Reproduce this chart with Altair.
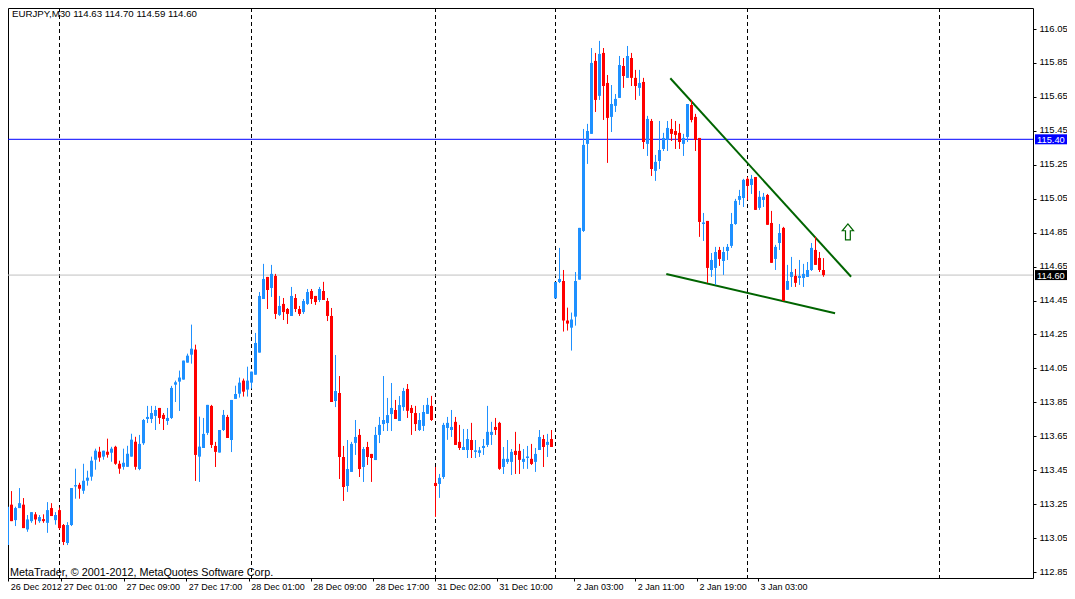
import altair as alt
import pandas as pd

symbol = "EURJPY,M30"

opens = [113.06, 113.01, 113.247, 113.156, 113.227, 113.247, 113.101, 113.15, 113.19, 113.15,
 113.162, 113.14, 113.227, 113.156, 113.215, 113.127, 113.021, 113.127, 113.355, 113.364,
 113.329, 113.388, 113.412, 113.512, 113.559, 113.53, 113.559, 113.553, 113.588, 113.488,
 113.47, 113.47, 113.53, 113.618, 113.457, 113.609, 113.752, 113.752, 113.77, 113.817,
 113.776, 113.74, 113.758, 113.954, 113.972, 113.984, 114.084, 114.131, 114.161, 113.53,
 113.581, 113.67, 113.829, 113.593, 113.554, 113.687, 113.764, 113.628, 113.87, 113.901,
 113.978, 113.925, 113.966, 114.013, 114.143, 114.459, 114.589, 114.524, 114.595, 114.365,
 114.43, 114.40, 114.359, 114.465, 114.40, 114.382, 114.43, 114.506, 114.477, 114.453,
 114.506, 114.447, 114.359, 113.858, 113.905, 113.528, 113.357, 113.44, 113.611, 113.658,
 113.469, 113.587, 113.546, 113.51, 113.658, 113.722, 113.728, 113.781, 113.805, 113.74,
 113.822, 113.929, 113.817, 113.787, 113.687, 113.711, 113.782, 113.829, 113.375, 113.369,
 113.41, 113.699, 113.687, 113.735, 113.617, 113.569, 113.569, 113.628, 113.558, 113.552,
 113.581, 113.599, 113.658, 113.705, 113.729, 113.469, 113.499, 113.499, 113.564, 113.564,
 113.499, 113.522, 113.517, 113.499, 113.569, 113.634, 113.599, 113.634, 114.463, 114.559,
 114.565, 114.332, 114.29, 114.355, 114.573, 114.86, 115.373, 115.432, 115.862, 115.656,
 115.909, 115.732, 115.532, 115.597, 115.644, 115.832, 115.762, 115.879, 115.762, 115.703,
 115.738, 115.373, 115.508, 115.214, 115.272, 115.343, 115.396, 115.461, 115.449, 115.438,
 115.373, 115.414, 115.602, 115.532, 115.408, 114.901, 114.919, 114.63, 114.642, 114.748,
 114.683, 114.742, 114.772, 114.901, 115.043, 115.054, 115.167, 115.131, 115.178, 114.996,
 115.043, 115.072, 114.907, 114.695, 114.789, 114.878, 114.513, 114.589, 114.595, 114.583,
 114.583, 114.589, 114.63, 114.748, 114.701, 114.63]

highs = [113.10, 113.376, 113.327, 113.235, 113.345, 113.286, 113.186, 113.203, 113.203, 113.186,
 113.19, 113.262, 113.256, 113.203, 113.23, 113.133, 113.144, 113.345, 113.459, 113.376,
 113.488, 113.447, 113.53, 113.577, 113.588, 113.565, 113.636, 113.588, 113.594, 113.506,
 113.577, 113.594, 113.665, 113.647, 113.658, 113.752, 113.829, 113.829, 113.829, 113.817,
 113.787, 113.817, 113.947, 113.978, 114.037, 114.096, 114.137, 114.308, 114.19, 113.766,
 113.758, 113.835, 113.835, 113.617, 113.687, 113.805, 113.776, 113.864, 113.948, 113.996,
 113.99, 114.06, 114.031, 114.259, 114.50, 114.666, 114.589, 114.66, 114.607, 114.477,
 114.465, 114.406, 114.53, 114.488, 114.418, 114.459, 114.518, 114.518, 114.477, 114.53,
 114.56, 114.465, 114.406, 114.129, 114.005, 113.593, 113.628, 113.617, 113.746, 113.693,
 113.587, 113.617, 113.546, 113.705, 113.764, 114.005, 113.876, 113.964, 113.864, 113.887,
 113.935, 113.958, 113.834, 113.829, 113.787, 113.834, 113.876, 113.888, 113.469, 113.428,
 113.729, 113.764, 113.805, 113.764, 113.717, 113.693, 113.693, 113.729, 113.628, 113.587,
 113.634, 113.829, 113.735, 113.758, 113.735, 113.587, 113.628, 113.575, 113.676, 113.605,
 113.575, 113.593, 113.605, 113.581, 113.687, 113.658, 113.664, 113.687, 114.559, 114.76,
 114.63, 114.408, 114.379, 114.618, 114.878, 115.461, 115.491, 115.938, 115.909, 115.98,
 115.938, 115.779, 115.72, 115.667, 115.891, 115.879, 115.95, 115.909, 115.809, 115.809,
 115.762, 115.538, 115.52, 115.308, 115.508, 115.438, 115.508, 115.52, 115.508, 115.491,
 115.432, 115.608, 115.632, 115.55, 115.408, 114.966, 114.919, 114.73, 114.766, 114.766,
 114.766, 114.783, 114.966, 115.049, 115.102, 115.167, 115.178, 115.19, 115.178, 115.096,
 115.084, 115.078, 114.978, 114.778, 114.901, 114.884, 114.66, 114.707, 114.636, 114.689,
 114.666, 114.677, 114.789, 114.825, 114.736, 114.70]

lows = [112.96, 113.01, 113.15, 113.121, 113.227, 113.109, 113.087, 113.14, 113.129, 113.14,
 113.14, 113.081, 113.18, 113.129, 113.10, 113.009, 113.009, 113.121, 113.282, 113.282,
 113.311, 113.359, 113.388, 113.453, 113.50, 113.512, 113.524, 113.50, 113.482, 113.429,
 113.453, 113.47, 113.53, 113.453, 113.45, 113.599, 113.728, 113.728, 113.687, 113.723,
 113.687, 113.717, 113.752, 113.852, 113.799, 113.984, 114.084, 114.078, 113.387, 113.381,
 113.581, 113.658, 113.581, 113.469, 113.554, 113.681, 113.64, 113.557, 113.87, 113.878,
 113.884, 113.884, 113.931, 114.013, 114.143, 114.459, 114.40, 114.471, 114.341, 114.359,
 114.335, 114.312, 114.359, 114.382, 114.359, 114.371, 114.424, 114.43, 114.424, 114.441,
 114.453, 114.329, 113.852, 113.822, 113.398, 113.269, 113.322, 113.44, 113.54, 113.41,
 113.381, 113.481, 113.381, 113.51, 113.61, 113.681, 113.681, 113.681, 113.752, 113.74,
 113.80, 113.758, 113.658, 113.681, 113.681, 113.681, 113.782, 113.74, 113.175, 113.287,
 113.399, 113.629, 113.646, 113.599, 113.569, 113.569, 113.522, 113.522, 113.522, 113.528,
 113.54, 113.587, 113.599, 113.658, 113.452, 113.428, 113.487, 113.422, 113.428, 113.428,
 113.458, 113.458, 113.481, 113.44, 113.569, 113.469, 113.528, 113.587, 114.463, 114.553,
 114.267, 114.273, 114.155, 114.302, 114.573, 114.854, 115.255, 115.432, 115.561, 115.632,
 115.514, 115.261, 115.443, 115.561, 115.644, 115.703, 115.762, 115.714, 115.632, 115.656,
 115.343, 115.302, 115.184, 115.155, 115.225, 115.331, 115.331, 115.39, 115.343, 115.343,
 115.302, 115.384, 115.50, 115.331, 114.825, 114.801, 114.554, 114.589, 114.542, 114.654,
 114.601, 114.689, 114.76, 114.896, 115.013, 115.001, 115.043, 115.078, 114.984, 114.984,
 115.001, 114.896, 114.672, 114.63, 114.748, 114.448, 114.513, 114.53, 114.53, 114.542,
 114.53, 114.589, 114.624, 114.66, 114.618, 114.59]

closes = [113.02, 113.235, 113.15, 113.227, 113.256, 113.109, 113.16, 113.203, 113.16, 113.174,
 113.15, 113.215, 113.18, 113.186, 113.109, 113.027, 113.127, 113.345, 113.359, 113.341,
 113.388, 113.406, 113.506, 113.565, 113.524, 113.565, 113.541, 113.577, 113.488, 113.459,
 113.494, 113.547, 113.63, 113.47, 113.605, 113.746, 113.764, 113.787, 113.805, 113.758,
 113.752, 113.758, 113.935, 113.965, 113.996, 114.096, 114.125, 114.166, 113.54, 113.589,
 113.664, 113.835, 113.599, 113.558, 113.687, 113.776, 113.64, 113.864, 113.899, 113.966,
 113.913, 113.978, 114.031, 114.20, 114.477, 114.577, 114.512, 114.607, 114.371, 114.418,
 114.382, 114.371, 114.477, 114.40, 114.371, 114.447, 114.50, 114.459, 114.441, 114.518,
 114.453, 114.359, 113.852, 113.917, 113.528, 113.351, 113.457, 113.605, 113.646, 113.457,
 113.575, 113.528, 113.522, 113.658, 113.717, 113.746, 113.775, 113.817, 113.752, 113.834,
 113.917, 113.80, 113.787, 113.722, 113.746, 113.793, 113.835, 113.746, 113.357, 113.405,
 113.717, 113.729, 113.705, 113.599, 113.581, 113.587, 113.634, 113.569, 113.564, 113.564,
 113.593, 113.676, 113.676, 113.687, 113.458, 113.517, 113.517, 113.558, 113.54, 113.511,
 113.517, 113.528, 113.487, 113.546, 113.646, 113.587, 113.617, 113.587, 114.559, 114.577,
 114.332, 114.314, 114.338, 114.565, 114.878, 115.367, 115.449, 115.85, 115.632, 115.903,
 115.714, 115.526, 115.608, 115.638, 115.838, 115.773, 115.891, 115.762, 115.714, 115.732,
 115.384, 115.52, 115.225, 115.267, 115.337, 115.408, 115.467, 115.432, 115.426, 115.384,
 115.408, 115.608, 115.514, 115.396, 114.913, 114.907, 114.642, 114.689, 114.736, 114.695,
 114.736, 114.766, 114.901, 115.037, 115.066, 115.161, 115.125, 115.167, 114.984, 115.061,
 115.061, 114.896, 114.672, 114.766, 114.848, 114.448, 114.565, 114.618, 114.554, 114.595,
 114.607, 114.63, 114.76, 114.66, 114.63, 114.60]

# time axis labels (positions in bar units) and day separators
xtick_pos = [1.2, 14.45, 30.1, 45.7, 61.3, 76.8, 92.4, 107.8, 123.3, 142.6, 157.95, 173.4, 188.6]
xtick_labels = ["26 Dec 2012", "27 Dec 01:00", "27 Dec 09:00", "27 Dec 17:00", "28 Dec 01:00",
                "28 Dec 09:00", "28 Dec 17:00", "31 Dec 02:00", "31 Dec 10:00", "2 Jan 03:00",
                "2 Jan 11:00", "2 Jan 19:00", "3 Jan 03:00"]
day_separators = [14, 62, 108, 138, 186, 234]

price_ticks = [116.05, 115.85, 115.65, 115.45, 115.25, 115.05, 114.85, 114.65, 114.45,
               114.25, 114.05, 113.85, 113.65, 113.45, 113.25, 113.05, 112.85]

level_prices = [115.40, 114.60]
level_line_colors = ["#0000FF", "#C0C0C0"]
level_box_colors = ["#0000FF", "#000000"]

trend_names = ["upper", "upper", "lower", "lower"]
trend_bars = [166.7, 211.9, 165.7, 207.9]
trend_prices = [115.76, 114.59, 114.606, 114.375]

arrow_bar = [211.1]
arrow_price = [114.854]

copyright_text = "MetaTrader, \u00a9 2001-2012, MetaQuotes Software Corp."

# ---------------------------------------------------------------
FONT = "Liberation Sans"
W, H = 1025, 570
x_dom = [1.125, 1.125 + W / 4.0]
y_top = 116.05 + 21 / 169.7
y_dom = [y_top - H / 169.7, y_top]

xs = alt.Scale(domain=x_dom, nice=False, zero=False)
ys = alt.Scale(domain=y_dom, nice=False, zero=False)

candles = pd.DataFrame({
    "bar": list(range(len(opens))),
    "open": opens, "high": highs, "low": lows, "close": closes,
})
candles["dir"] = ["up" if c >= o else "down" for o, c in zip(opens, closes)]
col = alt.Color("dir:N", scale=alt.Scale(domain=["up", "down"], range=["#1E90FF", "#FF0000"]), legend=None)

label_expr = "'" + xtick_labels[-1] + "'"
for i in reversed(range(len(xtick_pos) - 1)):
    mid = (xtick_pos[i] + xtick_pos[i + 1]) / 2
    label_expr = f"datum.value < {mid} ? '{xtick_labels[i]}' : ({label_expr})"

x_axis = alt.Axis(values=xtick_pos, labelExpr=label_expr, labelAlign="left", labelBaseline="top",
                  labelOffset=2, labelPadding=1, tickSize=3, tickColor="black", domain=False,
                  grid=False, title=None, labelFont=FONT, labelFontSize=9, labelColor="black",
                  labelFlush=False, labelOverlap=False)
y_axis = alt.Axis(values=price_ticks, format=".2f", orient="right", tickSize=3, tickColor="black",
                  labelPadding=3, labelBaseline="middle", labelOffset=-1, domain=False, grid=False,
                  title=None, labelFont=FONT, labelFontSize=9.5, labelColor="black",
                  labelFlush=False, labelOverlap=False)


def X(field):
    return alt.X(field, scale=xs, axis=x_axis)


def Y(field):
    return alt.Y(field, scale=ys, axis=y_axis)


sep = alt.Chart(pd.DataFrame({"bar": day_separators})).mark_rule(
    color="black", strokeWidth=1, strokeDash=[4, 3]).encode(x=X("bar:Q"))

levels = pd.DataFrame({"price": level_prices, "line": level_line_colors, "box": level_box_colors,
                       "label": [f"{p:.2f}" for p in level_prices]})
level_lines = alt.Chart(levels).mark_rule(strokeWidth=1).encode(
    y=Y("price:Q"), color=alt.Color("line:N", scale=None))

trend = alt.Chart(pd.DataFrame({"line": trend_names, "bar": trend_bars, "price": trend_prices})).mark_line(
    color="#006400", strokeWidth=2, clip=True).encode(
    x=X("bar:Q"), y=Y("price:Q"), detail="line:N")

wick = alt.Chart(candles).mark_rule(strokeWidth=1, clip=True).encode(
    x=X("bar:Q"), y=Y("low:Q"), y2="high:Q", color=col)

body = alt.Chart(candles).mark_rule(strokeWidth=3, clip=True).encode(
    x=X("bar:Q"), y=Y("open:Q"), y2="close:Q", color=col)

doji = alt.Chart(candles).transform_filter(
    "abs(datum.open - datum.close) < 0.012").mark_tick(
    orient="horizontal", size=3, thickness=1, clip=True, opacity=1).encode(
    x=X("bar:Q"), y=Y("close:Q"), color=col)

arrow_shape = "M0,-1L0.7,-0.15L0.3,-0.15L0.3,1L-0.3,1L-0.3,-0.15L-0.7,-0.15Z"
arrow = alt.Chart(pd.DataFrame({"bar": arrow_bar, "price": arrow_price})).mark_point(
    shape=arrow_shape, size=256, filled=True, fill="white", stroke="#006400",
    strokeWidth=1.2, opacity=1).encode(x=X("bar:Q"), y=Y("price:Q"))

box_shape = "M-1.6,-0.5L1.6,-0.5L1.6,0.5L-1.6,0.5Z"
level_boxes = alt.Chart(levels).mark_point(
    shape=box_shape, size=400, filled=True, opacity=1, strokeWidth=0).encode(
    x=alt.value(W + 18), y=Y("price:Q"), fill=alt.Color("box:N", scale=None))

level_text = alt.Chart(levels).mark_text(
    align="left", baseline="middle", color="white", font=FONT, fontSize=9.3, dy=0.5).encode(
    x=alt.value(W + 4), y=Y("price:Q"), text="label:N")

header_str = f"{symbol}  {opens[-1]:.2f} {highs[-1]:.2f} {lows[-1]:.2f} {closes[-1]:.2f}"
header = alt.Chart(pd.DataFrame({"t": [header_str]})).mark_text(
    align="left", baseline="alphabetic", color="black", font=FONT, fontSize=9.7).encode(
    x=alt.value(4), y=alt.value(9), text="t:N")

copyright = alt.Chart(pd.DataFrame({"t": [copyright_text]})).mark_text(
    align="left", baseline="alphabetic", color="black", font=FONT, fontSize=10.8).encode(
    x=alt.value(2), y=alt.value(H - 2.5), text="t:N")

chart = alt.layer(
    sep, level_lines, trend, wick, body, doji, arrow, level_boxes, level_text, header, copyright
).properties(
    width=W, height=H,
    autosize=alt.AutoSizeParams(type="none"),
    padding={"left": 0, "top": 0, "right": 34, "bottom": 13},
    background="white",
).configure_view(stroke="black", strokeWidth=1)

chart.save("out.html", embed_options={"renderer": "svg", "actions": False})
